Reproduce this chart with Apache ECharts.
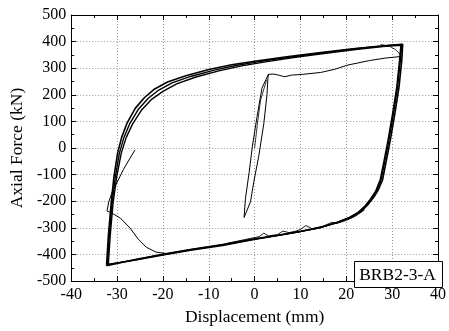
<!DOCTYPE html>
<html><head><meta charset="utf-8">
<script src="https://cdn.jsdelivr.net/npm/echarts@6/dist/echarts.min.js"></script>
<style>html,body{margin:0;padding:0;background:#fff}#c{width:449px;height:331px}</style>
</head><body><div id="c"></div>
<script>
// Displacement (mm), Axial force (kN)
const xTicks = [-40,-30,-20,-10,0,10,20,30,40];
const yTicks = [-500,-400,-300,-200,-100,0,100,200,300,400,500];
const cycleOuter = [[-32.3,-442],[-31.9,-330],[-31.3,-210],[-30.7,-110],[-29.9,-20],[-29.0,40],[-27.8,95],[-26.0,150],[-24.0,190],[-21.8,222],[-19.0,248],[-15.0,272],[-10.0,295],[-5.0,313],[0,326],[7,343],[14,358],[21.5,373],[27,382],[32.3,390],[32.1,330],[31.5,230],[30.6,130],[29.6,30],[28.7,-50],[27.9,-120],[26.9,-160],[25.9,-187],[24.6,-215],[23.1,-240],[21.1,-260],[18.1,-280],[14.5,-298],[10.1,-313],[5.1,-328],[0.1,-341],[-7,-363],[-14,-381],[-20,-399],[-26,-419],[-32.3,-442]];
const cycleMid = [[-32.1,-439],[-31.7,-330],[-31.1,-210],[-30.4,-110],[-29.5,-20],[-28.5,40],[-27.2,93],[-25.3,147],[-23.2,187],[-20.9,218],[-18.0,245],[-13.8,270],[-8.8,293],[-3.8,311],[1,325],[8,342],[15,358],[22,373],[28,384],[32.1,389],[31.8,330],[31.2,230],[30.3,130],[29.3,30],[28.4,-50],[27.6,-119],[26.6,-161],[25.5,-190],[24.2,-218],[22.7,-242],[20.7,-261],[17.7,-281],[14.2,-299],[9.7,-314],[4.7,-329],[0,-342],[-7,-364],[-14,-382],[-20,-400],[-26,-420],[-32.1,-439]];
const cycleInner = [[-31.9,-436],[-31.5,-330],[-30.9,-210],[-30.1,-110],[-29.1,-20],[-28.0,40],[-26.6,91],[-24.6,144],[-22.4,184],[-20.0,213],[-17.0,241],[-12.8,267],[-7.8,290],[-2.8,309],[2,323],[8.5,340],[15.5,356],[22.5,371],[28.5,382],[31.9,386],[31.6,330],[31.0,230],[30.1,130],[29.1,30],[28.2,-50],[27.4,-118],[26.4,-162],[25.2,-193],[23.9,-221],[22.4,-244],[20.4,-263],[17.4,-283],[13.9,-301],[9.4,-316],[4.4,-331],[-0.2,-344],[-7,-366],[-14,-384],[-20,-402],[-26,-421],[-31.9,-436]];
const narrowLoop = [[-2.3,-261],[-0.9,-202],[-0.2,-129],[0.9,-31],[2.0,91],[2.7,201],[2.9,262],[3.0,277],[1.6,225],[0.5,115],[-0.5,5],[-1.2,-92],[-2.0,-190],[-2.3,-261]];
const narrowInner = [[2.6,255],[1.3,180],[0.6,90],[0.0,0]];
const firstTension = [[3.0,277],[4.2,278],[5.2,274],[6.6,268],[8.0,274],[10.5,277],[14.4,284],[17.5,296],[20.1,311],[25.1,329],[28.5,338],[31.9,344]];
const cornerCurve = [[27.5,389],[29.3,384],[30.8,369],[31.7,353],[31.9,344]];
const firstCompression = [[-19.0,-397],[-21.5,-391],[-23.6,-373],[-25.4,-342],[-27.2,-300],[-29.3,-263],[-31.1,-245],[-32.2,-236],[-31.8,-202],[-31.1,-166],[-30.0,-129],[-28.6,-80],[-26.1,-7]];
const bumpyBranch = [[-6,-358],[-1,-340],[1,-333],[2,-320],[3,-330],[5,-325],[6.2,-312],[7.5,-318],[9,-312],[10,-306],[11.2,-291],[12.5,-303],[15,-293],[16.9,-279],[18,-283],[20,-272],[22,-256],[24,-232]];
const boxLabel = 'BRB2-3-A';

const chart = echarts.init(document.getElementById('c'));
const FONT = 'Liberation Serif';
const lineSeries = (data, w) => ({type:'line', data, symbol:'none', silent:true, animation:false,
  lineStyle:{color:'#000', width:w}, xAxisIndex:0, yAxisIndex:0});
const baseAxis = {
  axisLine:{show:true, onZero:false, lineStyle:{color:'#000', width:1}},
  axisTick:{show:true, inside:true, length:5, lineStyle:{color:'#000'}},
  minorTick:{show:true, splitNumber:2, length:3, lineStyle:{color:'#000'}},
};
chart.setOption({
  animation:false,
  grid:{left:70, right:6, top:15, bottom:43},
  xAxis:[
    Object.assign({type:'value', min:xTicks[0], max:xTicks[xTicks.length-1], interval:10, position:'bottom',
      name:'Displacement (mm)', nameLocation:'middle', nameGap:25,
      nameTextStyle:{fontFamily:FONT, fontSize:17.5, color:'#000'},
      axisLabel:{fontFamily:FONT, fontSize:16, color:'#000', margin:6},
      splitLine:{show:true, lineStyle:{type:[1,2], color:'#999', width:1}}}, baseAxis),
    Object.assign({type:'value', min:xTicks[0], max:xTicks[xTicks.length-1], interval:10, position:'top',
      axisLabel:{show:false}, splitLine:{show:false}}, baseAxis)
  ],
  yAxis:[
    Object.assign({type:'value', min:yTicks[0], max:yTicks[yTicks.length-1], interval:100, position:'left',
      name:'Axial Force (kN)', nameLocation:'middle', nameGap:36, nameRotate:90,
      nameTextStyle:{fontFamily:FONT, fontSize:17.5, color:'#000'},
      axisLabel:{fontFamily:FONT, fontSize:16, color:'#000', margin:5},
      splitLine:{show:true, lineStyle:{type:[1,2], color:'#999', width:1}}}, baseAxis),
    Object.assign({type:'value', min:yTicks[0], max:yTicks[yTicks.length-1], interval:100, position:'right',
      axisLabel:{show:false}, splitLine:{show:false}}, baseAxis)
  ],
  series:[
    lineSeries(cycleOuter, 1.6),
    lineSeries(cycleMid, 1.4),
    lineSeries(cycleInner, 1.4),
    lineSeries(narrowLoop, 1),
    lineSeries(narrowInner, 0.8),
    lineSeries(firstTension, 1),
    lineSeries(cornerCurve, 0.8),
    lineSeries(firstCompression, 1),
    lineSeries(bumpyBranch, 0.9)
  ],
  graphic:[
    {type:'rect', right:6, bottom:43, shape:{width:88, height:26}, style:{fill:'#fff', stroke:'#000', lineWidth:1}, z:100},
    {type:'text', right:13, bottom:47, style:{text:boxLabel, fontFamily:FONT, fontSize:17.5, fill:'#000'}, z:101}
  ]
});
</script></body></html>
